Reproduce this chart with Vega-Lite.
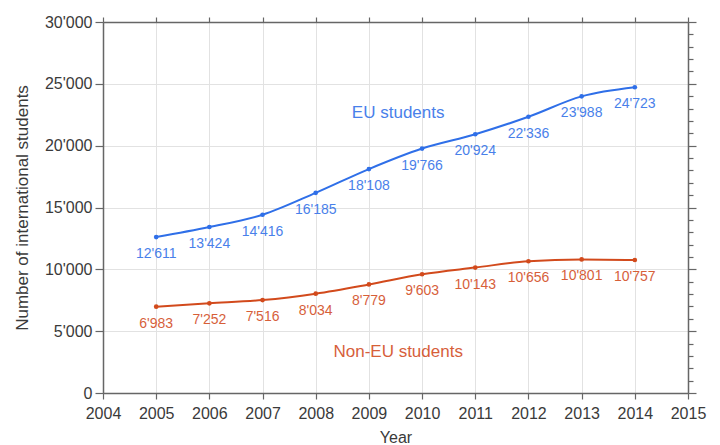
{
  "$schema": "https://vega.github.io/schema/vega-lite/v6.json",
  "width": 585,
  "height": 371,
  "autosize": {"type": "none"},
  "padding": {"left": 103, "top": 22, "right": 32, "bottom": 52},
  "background": "white",
  "config": {
    "locale": {"number": {"decimal": ".", "thousands": "'", "grouping": [3], "currency": ["", ""]}},
    "font": "Liberation Sans",
    "view": {"stroke": null},
    "axis": {
      "labelFont": "Liberation Sans",
      "titleFont": "Liberation Sans",
      "labelFontSize": 16,
      "titleFontSize": 16,
      "titleFontWeight": "normal",
      "labelColor": "#3a3a3a",
      "titleColor": "#3a3a3a",
      "domainColor": "#666666",
      "domainWidth": 1.5,
      "tickColor": "#666666",
      "tickWidth": 1.2,
      "gridColor": "#e2e2e2",
      "gridWidth": 1,
      "labelOverlap": false,
      "labelBound": false,
      "labelFlush": false
    }
  },
  "datasets": {
    "main": [
      {"year": 2005, "students": 12611, "group": "EU"},
      {"year": 2006, "students": 13424, "group": "EU"},
      {"year": 2007, "students": 14416, "group": "EU"},
      {"year": 2008, "students": 16185, "group": "EU"},
      {"year": 2009, "students": 18108, "group": "EU"},
      {"year": 2010, "students": 19766, "group": "EU"},
      {"year": 2011, "students": 20924, "group": "EU"},
      {"year": 2012, "students": 22336, "group": "EU"},
      {"year": 2013, "students": 23988, "group": "EU"},
      {"year": 2014, "students": 24723, "group": "EU"},
      {"year": 2005, "students": 6983, "group": "Non-EU"},
      {"year": 2006, "students": 7252, "group": "Non-EU"},
      {"year": 2007, "students": 7516, "group": "Non-EU"},
      {"year": 2008, "students": 8034, "group": "Non-EU"},
      {"year": 2009, "students": 8779, "group": "Non-EU"},
      {"year": 2010, "students": 9603, "group": "Non-EU"},
      {"year": 2011, "students": 10143, "group": "Non-EU"},
      {"year": 2012, "students": 10656, "group": "Non-EU"},
      {"year": 2013, "students": 10801, "group": "Non-EU"},
      {"year": 2014, "students": 10757, "group": "Non-EU"}
    ],
    "series": [
      {"year": 2009.55, "students": 22640, "group": "EU", "name": "EU students"},
      {"year": 2009.55, "students": 3315, "group": "Non-EU", "name": "Non-EU students"}
    ]
  },
  "resolve": {"axis": {"x": "independent", "y": "independent"}},
  "layer": [
    {
      "data": {"name": "main"},
      "mark": {"type": "line", "interpolate": "monotone", "strokeWidth": 2},
      "encoding": {
        "x": {
          "field": "year", "type": "quantitative",
          "scale": {"domain": [2004, 2015], "nice": false, "zero": false},
          "axis": {"orient": "bottom", "values": [2004,2005,2006,2007,2008,2009,2010,2011,2012,2013,2014,2015], "labelExpr": "format(datum.value, 'd')", "title": "Year", "tickSize": 6, "labelPadding": 6, "titlePadding": 8, "grid": true}
        },
        "y": {
          "field": "students", "type": "quantitative",
          "scale": {"domain": [0, 30000], "nice": false},
          "axis": {"orient": "left", "values": [0,5000,10000,15000,20000,25000,30000], "labelExpr": "format(datum.value, ',')", "title": "Number of international students", "titleFontSize": 17, "tickSize": 8, "labelPadding": 3, "titlePadding": 13, "grid": true}
        },
        "color": {"field": "group", "type": "nominal", "scale": {"domain": ["EU", "Non-EU"], "range": ["#2f6fe8", "#d24a1c"]}, "legend": null}
      }
    },
    {
      "data": {"name": "main"},
      "mark": {"type": "point", "filled": true, "size": 22, "opacity": 1},
      "encoding": {
        "x": {
          "field": "year", "type": "quantitative",
          "axis": {"orient": "top", "values": [2004,2005,2006,2007,2008,2009,2010,2011,2012,2013,2014,2015], "labels": false, "title": null, "tickSize": 5, "grid": false}
        },
        "y": {
          "field": "students", "type": "quantitative",
          "axis": {"orient": "right", "values": [0,1000,2000,3000,4000,5000,6000,7000,8000,9000,10000,11000,12000,13000,14000,15000,16000,17000,18000,19000,20000,21000,22000,23000,24000,25000,26000,27000,28000,29000,30000], "labels": false, "title": null, "grid": false, "tickSize": {"condition": {"test": "datum.value % 5000 === 0", "value": 8}, "value": 5}}
        },
        "color": {"field": "group", "type": "nominal", "legend": null}
      }
    },
    {
      "data": {"name": "main"},
      "mark": {"type": "text", "fontSize": 14, "dy": 17, "align": "center", "baseline": "middle", "opacity": 0.88},
      "encoding": {
        "x": {"field": "year", "type": "quantitative", "axis": null},
        "y": {"field": "students", "type": "quantitative", "axis": null},
        "text": {"field": "students", "type": "quantitative", "format": ","},
        "color": {"field": "group", "type": "nominal", "scale": {"domain": ["EU", "Non-EU"], "range": ["#2f6fe8", "#d24a1c"]}, "legend": null}
      }
    },
    {
      "data": {"name": "series"},
      "mark": {"type": "text", "fontSize": 17, "align": "center", "baseline": "middle", "opacity": 0.88},
      "encoding": {
        "x": {"field": "year", "type": "quantitative", "axis": null},
        "y": {"field": "students", "type": "quantitative", "axis": null},
        "text": {"field": "name", "type": "nominal"},
        "color": {"field": "group", "type": "nominal", "legend": null}
      }
    }
  ]
}
